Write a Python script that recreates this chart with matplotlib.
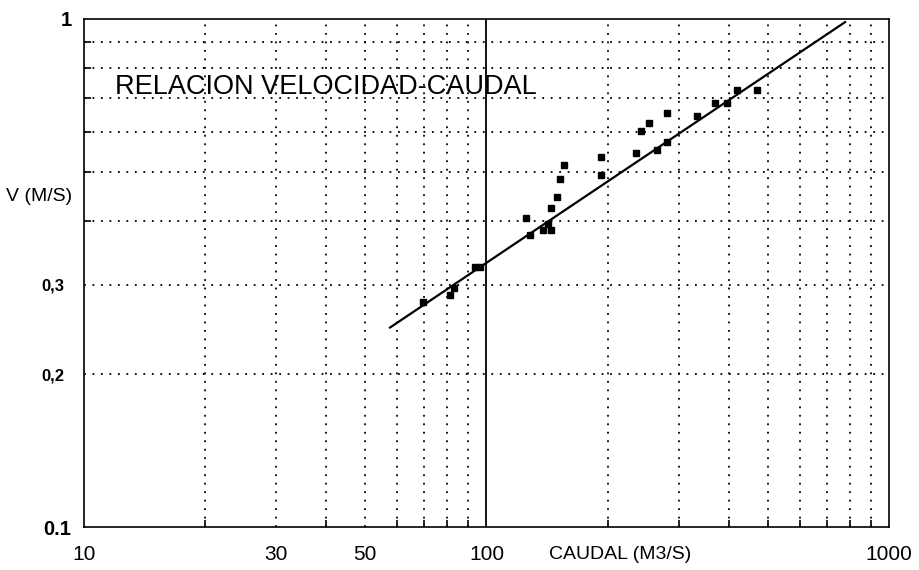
import numpy as np
import matplotlib
matplotlib.use("Agg")
import matplotlib.pyplot as plt
from matplotlib.transforms import ScaledTranslation

plt.rcParams['font.family'] = ['Liberation Sans', 'DejaVu Sans']

# Aforos: caudal (m3/s) y velocidad media (m/s)
caudal = [69.7, 81.2, 83.0, 93.6, 96.3, 125.2, 128.3, 138.4, 142.4, 144.4,
          144.4, 149.4, 152.3, 155.8, 192.2, 192.9, 234.8, 242.4, 253.8,
          264.8, 281.3, 280.4, 334.0, 369.7, 395.3, 418.4, 469.2]
velocidad = [0.277, 0.286, 0.296, 0.325, 0.325, 0.405, 0.375, 0.385, 0.395,
             0.385, 0.425, 0.446, 0.485, 0.515, 0.534, 0.494, 0.544, 0.602,
             0.623, 0.552, 0.573, 0.653, 0.644, 0.684, 0.684, 0.724, 0.724]

# Recta de ajuste (extremos)
q_ajuste = [57.6, 778.0]
v_ajuste = [0.247, 0.986]

x_ticks = [10, 30, 50, 100, 1000]
x_labels = ['10', '30', '50', '100', '1000']
y_ticks = [0.1, 0.2, 0.3, 1]
y_labels = ['0.1', '0,2', '0,3', '1']

x_grid = [20, 30, 40, 50, 60, 70, 80, 90, 200, 300, 400, 500, 600, 700, 800, 900]
y_grid = [0.2, 0.3, 0.4, 0.5, 0.6, 0.7, 0.8, 0.9]

fig = plt.figure(figsize=(9.2, 5.7), dpi=100)
ax = fig.add_axes([0.0913, 0.0754, 0.8750, 0.8913])
ax.set_xscale('log')
ax.set_yscale('log')
ax.set_xlim(10, 1000)
ax.set_ylim(0.1, 1)

dots = (0, (1, 3.7))
for xv in x_grid:
    ax.axvline(xv, color='black', lw=1.3, linestyle=dots, zorder=1)
for yv in y_grid:
    ax.axhline(yv, color='black', lw=1.3, linestyle=dots, zorder=1)
ax.axvline(100, color='black', lw=1.3, zorder=2)

ax.plot(q_ajuste, v_ajuste, color='black', lw=1.6, zorder=3)
ax.plot(caudal, velocidad, 's', color='black', ms=5, zorder=4)

for s in ax.spines.values():
    s.set_linewidth(1.2)

ax.xaxis.set_minor_locator(matplotlib.ticker.FixedLocator(x_grid))
ax.yaxis.set_minor_locator(matplotlib.ticker.FixedLocator(y_grid))
ax.xaxis.set_minor_formatter(matplotlib.ticker.NullFormatter())
ax.yaxis.set_minor_formatter(matplotlib.ticker.NullFormatter())
ax.set_xticks(x_ticks, x_labels, fontsize=15)
ax.set_yticks(y_ticks, y_labels, fontsize=14.5, fontweight='bold')
ax.tick_params(which='major', length=0)
ax.tick_params(axis='x', which='major', pad=13)
ax.tick_params(axis='y', which='major', pad=9)
ax.tick_params(which='minor', direction='in', length=5, width=1.2)
# 0,2 y 0,3 van algo mas pequenos y mas separados del eje
shift = ScaledTranslation(-0.07, 0, fig.dpi_scale_trans)
for lbl in ax.get_yticklabels()[1:3]:
    lbl.set_fontsize(12)
    lbl.set_transform(lbl.get_transform() + shift)

ax.text(0.0385, 0.866, 'RELACION VELOCIDAD-CAUDAL', transform=ax.transAxes,
        fontsize=19.5, va='center', ha='left')
fig.text(0.006, 0.656, 'V (M/S)', fontsize=14, va='center', ha='left')
fig.text(0.674, 0.028, 'CAUDAL (M3/S)', fontsize=14, va='center', ha='center')

fig.savefig('out.png', dpi=100)
